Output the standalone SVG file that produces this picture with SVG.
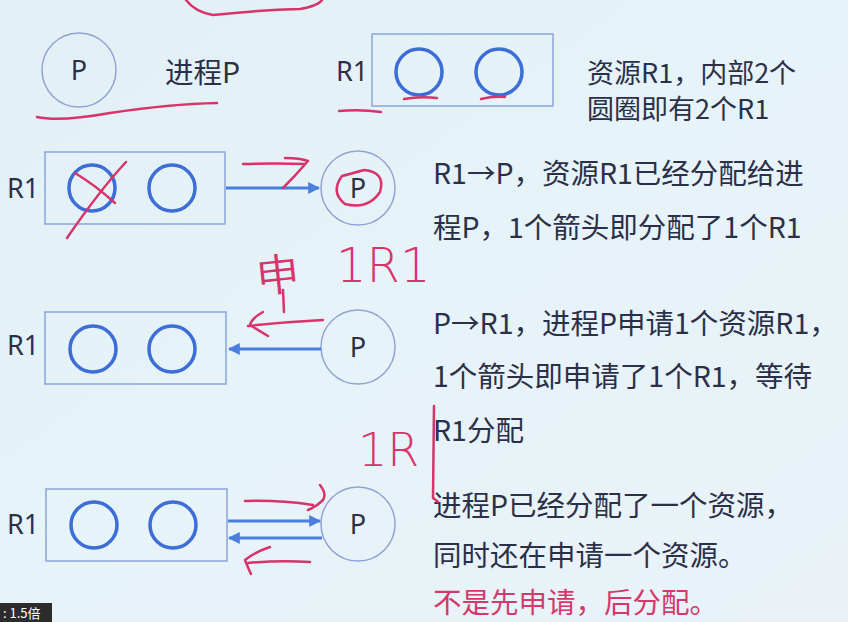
<svg xmlns="http://www.w3.org/2000/svg" width="848" height="622" viewBox="0 0 848 622">
<defs>
<linearGradient id="bg" x1="0" y1="0" x2="1" y2="1">
<stop offset="0" stop-color="#e2eff5"/>
<stop offset="0.5" stop-color="#e6f3f8"/>
<stop offset="1" stop-color="#eaf2f8"/>
</linearGradient>
<marker id="ah" viewBox="0 0 10 10" refX="9" refY="5" markerWidth="4" markerHeight="4" orient="auto-start-reverse" markerUnits="strokeWidth">
<path d="M0,0 L10,5 L0,10 z" fill="#4a7fe0"/>
</marker>
<style>
.pc{fill:none;stroke:#90a4d4;stroke-width:1.5}
.box{fill:none;stroke:#8ea2dc;stroke-width:1.5}
.rc{fill:none;stroke:#3d6ed8;stroke-width:3.5}
.arr{stroke:#4a7fe0;stroke-width:3;fill:none}
.t{font-family:"Noto Sans CJK SC","Noto Sans",sans-serif;fill:#2b3048;font-size:28.5px}
.lbl{font-family:"Noto Sans","Noto Sans CJK SC",sans-serif;fill:#2b3048;font-size:27px}
.ink{fill:none;stroke:#d8336a;stroke-width:2.5;stroke-linecap:round;stroke-linejoin:round}
.hw{font-family:"DejaVu Sans",sans-serif;fill:#d8336a;font-size:44px;font-weight:200}
</style>
</defs>
<rect width="848" height="622" fill="url(#bg)"/>

<!-- Legend row -->
<g id="legend-process">
<circle class="pc" cx="79" cy="70" r="37"/>
<text class="lbl" x="79" y="80" text-anchor="middle">P</text>
<text class="t" x="165" y="83">进程P</text>
</g>
<g id="legend-resource">
<text class="lbl" x="336" y="81">R1</text>
<rect class="box" x="372" y="34" width="181" height="72"/>
<circle class="rc" cx="419" cy="72" r="23"/>
<circle class="rc" cx="499" cy="72" r="23"/>
<text class="t" x="587" y="83" style="font-size:27px">资源R1，内部2个</text>
<text class="t" x="587" y="119" style="font-size:27px">圆圈即有2个R1</text>
</g>

<!-- Row 1: allocation -->
<g id="r1-alloc">
<text class="lbl" x="7" y="198">R1</text>
<rect class="box" x="45" y="152" width="180" height="72"/>
<circle class="rc" cx="92" cy="188" r="23"/>
<circle class="rc" cx="172" cy="188" r="23"/>
</g>
<g id="p-alloc">
<circle class="pc" cx="358" cy="188" r="37"/>
<text class="lbl" x="358" y="198" text-anchor="middle">P</text>
</g>
<text class="t" x="433" y="184">R1→P，资源R1已经分配给进</text>
<text class="t" x="433" y="238">程P，1个箭头即分配了1个R1</text>

<!-- Row 2: request -->
<g id="r1-req">
<text class="lbl" x="7" y="355">R1</text>
<rect class="box" x="45" y="312" width="181" height="72"/>
<circle class="rc" cx="93" cy="349" r="23"/>
<circle class="rc" cx="172" cy="349" r="23"/>
</g>
<g id="p-req">
<circle class="pc" cx="358" cy="347" r="37"/>
<text class="lbl" x="358" y="357" text-anchor="middle">P</text>
</g>
<text class="t" x="433" y="334">P→R1，进程P申请1个资源R1，</text>
<text class="t" x="433" y="387">1个箭头即申请了1个R1，等待</text>
<text class="t" x="433" y="441">R1分配</text>

<!-- Row 3: both -->
<g id="r1-both">
<text class="lbl" x="7" y="534">R1</text>
<rect class="box" x="46" y="489" width="181" height="72"/>
<circle class="rc" cx="94" cy="525" r="23"/>
<circle class="rc" cx="173" cy="525" r="23"/>
</g>
<g id="p-both">
<circle class="pc" cx="358" cy="524" r="37"/>
<text class="lbl" x="358" y="534" text-anchor="middle">P</text>
</g>
<text class="t" x="433" y="516">进程P已经分配了一个资源，</text>
<text class="t" x="433" y="566">同时还在申请一个资源。</text>
<text class="t" x="433" y="613" style="fill:#d23a6a">不是先申请，后分配。</text>

<!-- connectors -->
<g id="connectors">
<line class="arr" x1="226" y1="188" x2="319" y2="188" marker-end="url(#ah)"/>
<line class="arr" x1="321" y1="349" x2="229" y2="349" marker-end="url(#ah)"/>
<line class="arr" x1="228" y1="521" x2="320" y2="521" marker-end="url(#ah)"/>
<line class="arr" x1="322" y1="538" x2="229" y2="538" marker-end="url(#ah)"/>
</g>

<!-- handwritten annotations -->
<g id="annotations">
<path class="ink" d="M186,0 Q195,12 213,15 Q260,10 300,9 Q318,6 322,0"/>
<path class="ink" d="M37,117 Q60,122 110,113 Q170,104 217,103"/>
<path class="ink" d="M339,111 Q360,109 381,112"/>
<path class="ink" d="M404,99 Q420,96 437,98"/>
<path class="ink" d="M481,99 Q493,96 505,97"/>
<path class="ink" d="M126,162 Q100,190 67,238"/>
<path class="ink" d="M75,173 Q95,185 115,203"/>
<path class="ink" d="M342,176 Q330,192 345,204 Q368,210 380,192 Q386,172 364,170 Q350,174 342,176"/>
<path class="ink" d="M243,164 Q275,163 305,164"/>
<path class="ink" d="M285,158 Q300,158 308,161 Q296,175 283,188"/>
<text class="hw" x="258" y="290" transform="rotate(-6 275 270)">申</text>
<path class="ink" d="M283,290 L284,312"/>
<text class="hw" x="336" y="282" style="font-size:48px">1R1</text>
<path class="ink" d="M323,320 Q285,322 248,326"/>
<path class="ink" d="M263,312 Q252,318 250,325 Q258,330 268,336"/>
<text class="hw" x="358" y="466" style="font-size:46px">1R</text>
<path class="ink" d="M434,406 L433,498 Q436,500 438,502"/>
<path class="ink" d="M245,501 Q280,500 313,505"/>
<path class="ink" d="M320,485 Q327,494 323,500 Q316,507 308,510"/>
<path class="ink" d="M310,562 Q280,560 248,563"/>
<path class="ink" d="M270,547 Q255,552 245,560 Q248,568 251,574"/>
</g>

<!-- player badge -->
<g id="speed-badge">
<rect x="0" y="603" width="52" height="19" fill="#2c2c2c"/>
<text x="3" y="618" style="font-family:'Noto Sans CJK SC',sans-serif;font-size:13px;fill:#ffffff">: 1.5倍</text>
</g>
</svg>
